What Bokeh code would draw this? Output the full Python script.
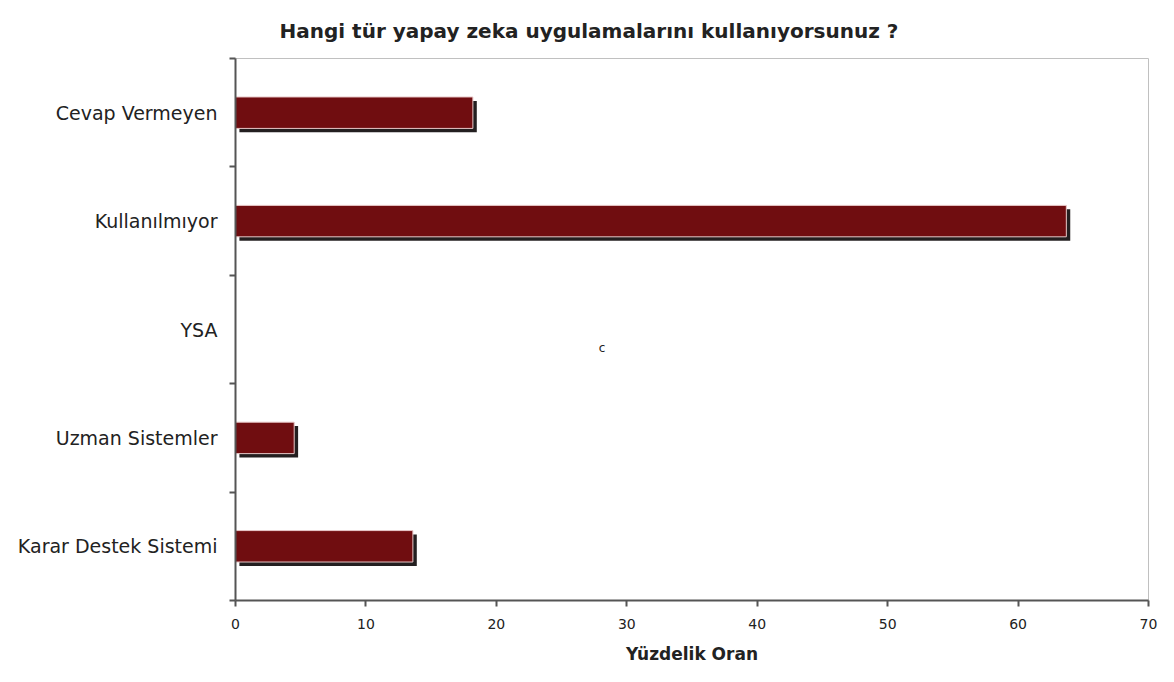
from bokeh.plotting import figure
from bokeh.models import ColumnDataSource, FixedTicker, Label, Range1d, Title
from bokeh.embed import file_html
from bokeh.resources import INLINE

categories = ["Karar Destek Sistemi", "Uzman Sistemler", "YSA", "Kullanılmıyor", "Cevap Vermeyen"]
values = [13.6, 4.5, 0.0, 63.7, 18.2]
x_ticks = [0, 10, 20, 30, 40, 50, 60, 70]

title_text = "Hangi tür yapay zeka uygulamalarını kullanıyorsunuz ?"
x_title = "Yüzdelik Oran"
stray_text = "c"
stray_x = 28.1
stray_y = 2.33

pos = [i + 0.5 for i in range(len(categories))]
shadow_dx = 0.3
shadow_dy = 0.036
bar_h = 0.29

shadow_src = ColumnDataSource(dict(
    y=[p - shadow_dy for p in pos],
    left=[shadow_dx if v > 0 else 0 for v in values],
    right=[v + shadow_dx if v > 0 else 0 for v in values],
))
src = ColumnDataSource(dict(y=pos, right=values))

FONT = "DejaVu Sans"

p = figure(width=1158, height=666, output_backend="svg", toolbar_location=None,
           x_range=Range1d(0, 70), y_range=Range1d(0, len(categories)),
           min_border_left=235, min_border_right=10, min_border_top=56, min_border_bottom=66)
p.title = Title(text=title_text, align="left", offset=44,
                text_font=FONT, text_font_size="20px", text_font_style="bold",
                text_color="#222222", standoff=32)

p.hbar(y="y", left="left", right="right", height=bar_h, source=shadow_src,
       fill_color="#231f20", line_color=None)
p.hbar(y="y", left=0, right="right", height=bar_h, source=src,
       fill_color="#700d10", line_color="#e8c8c8", line_width=1)

p.add_layout(Label(x=stray_x, y=stray_y, text=stray_text, text_font=FONT,
                   text_font_size="12px", text_color="#222222", text_align="center",
                   text_baseline="middle"))

p.xgrid.visible = False
p.ygrid.visible = False
p.outline_line_color = "#c0c0c0"
p.background_fill_color = "white"
p.border_fill_color = "white"

xa = p.xaxis[0]
xa.ticker = FixedTicker(ticks=x_ticks, minor_ticks=[])
xa.axis_label = x_title
xa.axis_label_text_font = FONT
xa.axis_label_text_font_size = "17px"
xa.axis_label_text_font_style = "bold"
xa.axis_label_text_color = "#222222"
xa.axis_label_standoff = 12
xa.major_label_text_font = FONT
xa.major_label_text_font_size = "14px"
xa.major_label_text_color = "#222222"
xa.major_label_standoff = 12
xa.axis_line_color = "#555555"
xa.axis_line_width = 2
xa.major_tick_line_color = "#555555"
xa.major_tick_in = 0
xa.major_tick_out = 6
xa.major_tick_line_width = 2

ya = p.yaxis[0]
ya.ticker = FixedTicker(ticks=pos, minor_ticks=list(range(len(categories) + 1)))
ya.major_label_overrides = {p_: c for p_, c in zip(pos, categories)}
ya.major_label_text_font = FONT
ya.major_label_text_font_size = "19px"
ya.major_label_text_color = "#222222"
ya.major_label_standoff = 12
ya.major_tick_line_color = None
ya.minor_tick_line_color = "#555555"
ya.minor_tick_in = 0
ya.minor_tick_out = 6
ya.minor_tick_line_width = 2
ya.axis_line_color = "#555555"
ya.axis_line_width = 2

open("out.html", "w").write(file_html(p, INLINE))
